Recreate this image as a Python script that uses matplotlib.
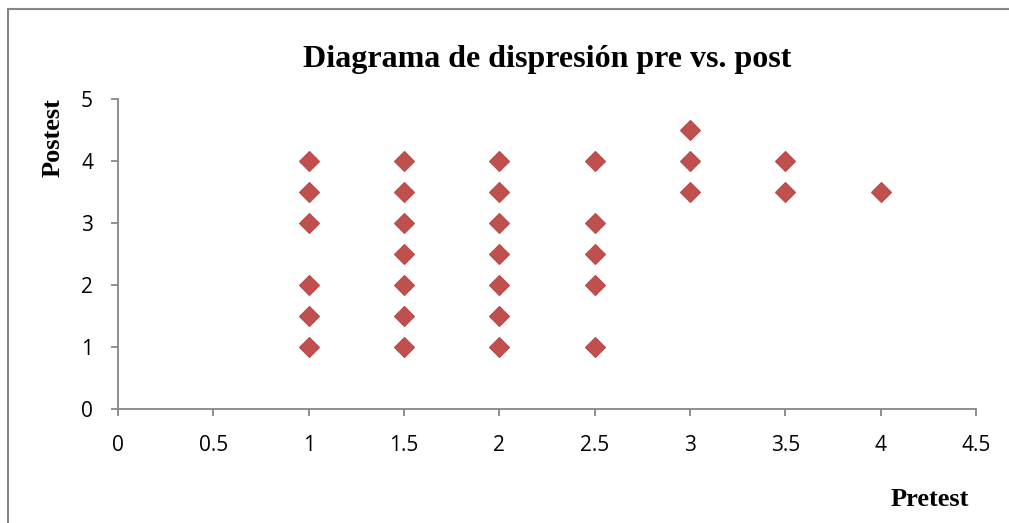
import matplotlib
matplotlib.use("Agg")
import matplotlib.pyplot as plt
from matplotlib.patches import Rectangle

# pretest / postest scores
pretest = [1, 1, 1, 1, 1, 1,
           1.5, 1.5, 1.5, 1.5, 1.5, 1.5, 1.5,
           2, 2, 2, 2, 2, 2, 2,
           2.5, 2.5, 2.5, 2.5, 2.5,
           3, 3, 3,
           3.5, 3.5,
           4]
postest = [4, 3.5, 3, 2, 1.5, 1,
           4, 3.5, 3, 2.5, 2, 1.5, 1,
           4, 3.5, 3, 2.5, 2, 1.5, 1,
           4, 3, 2.5, 2, 1,
           4.5, 4, 3.5,
           4, 3.5,
           3.5]
xticks = [0, 0.5, 1, 1.5, 2, 2.5, 3, 3.5, 4, 4.5]
xticklabels = ['0', '0.5', '1', '1.5', '2', '2.5', '3', '3.5', '4', '4.5']
yticks = [0, 1, 2, 3, 4, 5]

gray = '#868686'
serif = ['Liberation Serif', 'DejaVu Serif']
sans = ['Open Sans', 'DejaVu Sans']

fig = plt.figure(figsize=(10.09, 5.23), dpi=100)
ax = fig.add_axes([118/1009, 1 - 409/523, (976-118)/1009, (409-99)/523])

ax.plot(pretest, postest, 'D', color='#C0504D', markeredgecolor='#B84A47',
        markersize=10, markeredgewidth=0.8, clip_on=False)

ax.set_xlim(0, 4.5)
ax.set_ylim(0, 5)
ax.set_xticks(xticks)
ax.set_xticklabels(xticklabels)
ax.set_yticks(yticks)

for s in ['top', 'right']:
    ax.spines[s].set_visible(False)
for s in ['left', 'bottom']:
    ax.spines[s].set_color(gray)
    ax.spines[s].set_linewidth(1.3)
ax.tick_params(direction='out', length=5, width=1.3, color=gray)
ax.tick_params(axis='x', pad=14)
ax.tick_params(axis='y', pad=13)
for lab in ax.get_xticklabels() + ax.get_yticklabels():
    lab.set_family(sans)
    lab.set_fontsize(15)

ax.set_title('Diagrama de dispresión pre vs. post', family=serif,
             fontsize=23, fontweight='bold', pad=23)
fig.text(53/1009, 1 - 138/523, 'Postest', family=serif, fontsize=19,
         fontweight='bold', rotation=90, ha='center', va='center')
fig.text(969/1009, 1 - 500/523, 'Pretest', family=serif, fontsize=19,
         fontweight='bold', ha='right', va='center')

# outer chart frame (right and bottom edges fall outside the picture)
fig.patches.append(Rectangle((7.5/1009, -0.1), 1.2, 1 - 9.5/523 + 0.1,
                             transform=fig.transFigure, fill=False,
                             edgecolor=gray, linewidth=1.5))

fig.savefig('out.png', dpi=100)
